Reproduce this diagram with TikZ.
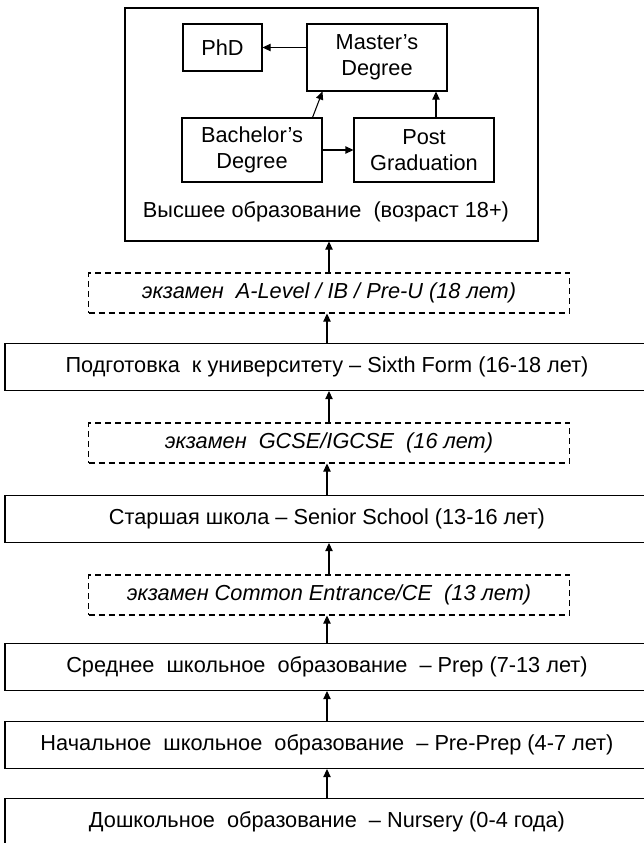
\documentclass[tikz,border=0pt]{standalone}
\usepackage{fontspec}
\setmainfont{Liberation Sans}
\usetikzlibrary{positioning}
\usetikzlibrary{arrows.meta}

\begin{document}
\begin{tikzpicture}[x=0.75pt, y=-0.75pt,
    font=\fontsize{16.3}{19.5}\selectfont,
    box/.style={draw, line width=0.8pt, align=center, inner sep=0pt},
    stage/.style={box, minimum width=483pt, minimum height=35.25pt},
    exam/.style={box, dash pattern=on 4.5pt off 3pt, font=\fontsize{16.3}{19.5}\selectfont\itshape,
                 minimum width=360.75pt, minimum height=30pt},
    arr/.style={-{Triangle[length=6pt,width=5.5pt]}, line width=0.8pt}]

    \useasboundingbox (0,0) rectangle (643,843);

    % Ensino superior
    \node[box, minimum width=309.75pt, minimum height=174.75pt] (high) at (331.5,124.5) {};
    \node (highlabel) at (326,212) {Высшее образование~ (возраст 18+)};

    \foreach \pos/\name/\w/\h/\txt in {{(222.5,47.5)/phd/59.25pt/35.25pt/PhD},
                                       {(377,57.5)/master/105pt/50.25pt/{Master’s\\Degree}},
                                       {(252,150)/bachelor/105pt/48pt/{Bachelor’s\\Degree}},
                                       {(424,150)/post/105pt/48pt/{Post\\Graduation}}}
        \node[box, minimum width=\w, minimum height=\h] (\name) at \pos {\txt};

    \draw[arr] (master.west |- phd.east) -- (phd.east);
    \draw[arr] (bachelor.east) -- (post.west);
    \draw[arr] ([xshift=-7.5pt]bachelor.north east) -- ([xshift=12pt]master.south west);
    \draw[arr] ([xshift=9pt]post.north) -- ([xshift=9pt]post.north |- master.south);

    % Etapas e exames
    \foreach \pos/\name/\sty/\txt in {{(329,293)/examA/exam/{экзамен~ A-Level / IB / Pre-U (18 лет)}},
                                      {(327,367)/sixth/stage/{Подготовка~ к университету – Sixth Form (16-18 лет)}},
                                      {(329,443)/examB/exam/{экзамен~ GCSE/IGCSE~ (16 лет)}},
                                      {(327,519)/senior/stage/{Старшая школа – Senior School (13-16 лет)}},
                                      {(329,595)/examC/exam/{экзамен Common Entrance/CE~ (13 лет)}},
                                      {(327,667)/prep/stage/{Среднее~ школьное~ образование~ – Prep (7-13 лет)}},
                                      {(327,745)/preprep/stage/{Начальное~ школьное~ образование~ – Pre-Prep (4-7 лет)}},
                                      {(327,822)/nursery/stage/{Дошкольное~ образование~ – Nursery (0-4 года)}}}
        \node[\sty] (\name) at \pos {\txt};

    \foreach \a/\b in {examA/high, sixth/examA, examB/sixth, senior/examB,
                       examC/senior, prep/examC, preprep/prep, nursery/preprep}
        \draw[arr] (\a.north) -- (\a.north |- \b.south);

\end{tikzpicture}
\end{document}
